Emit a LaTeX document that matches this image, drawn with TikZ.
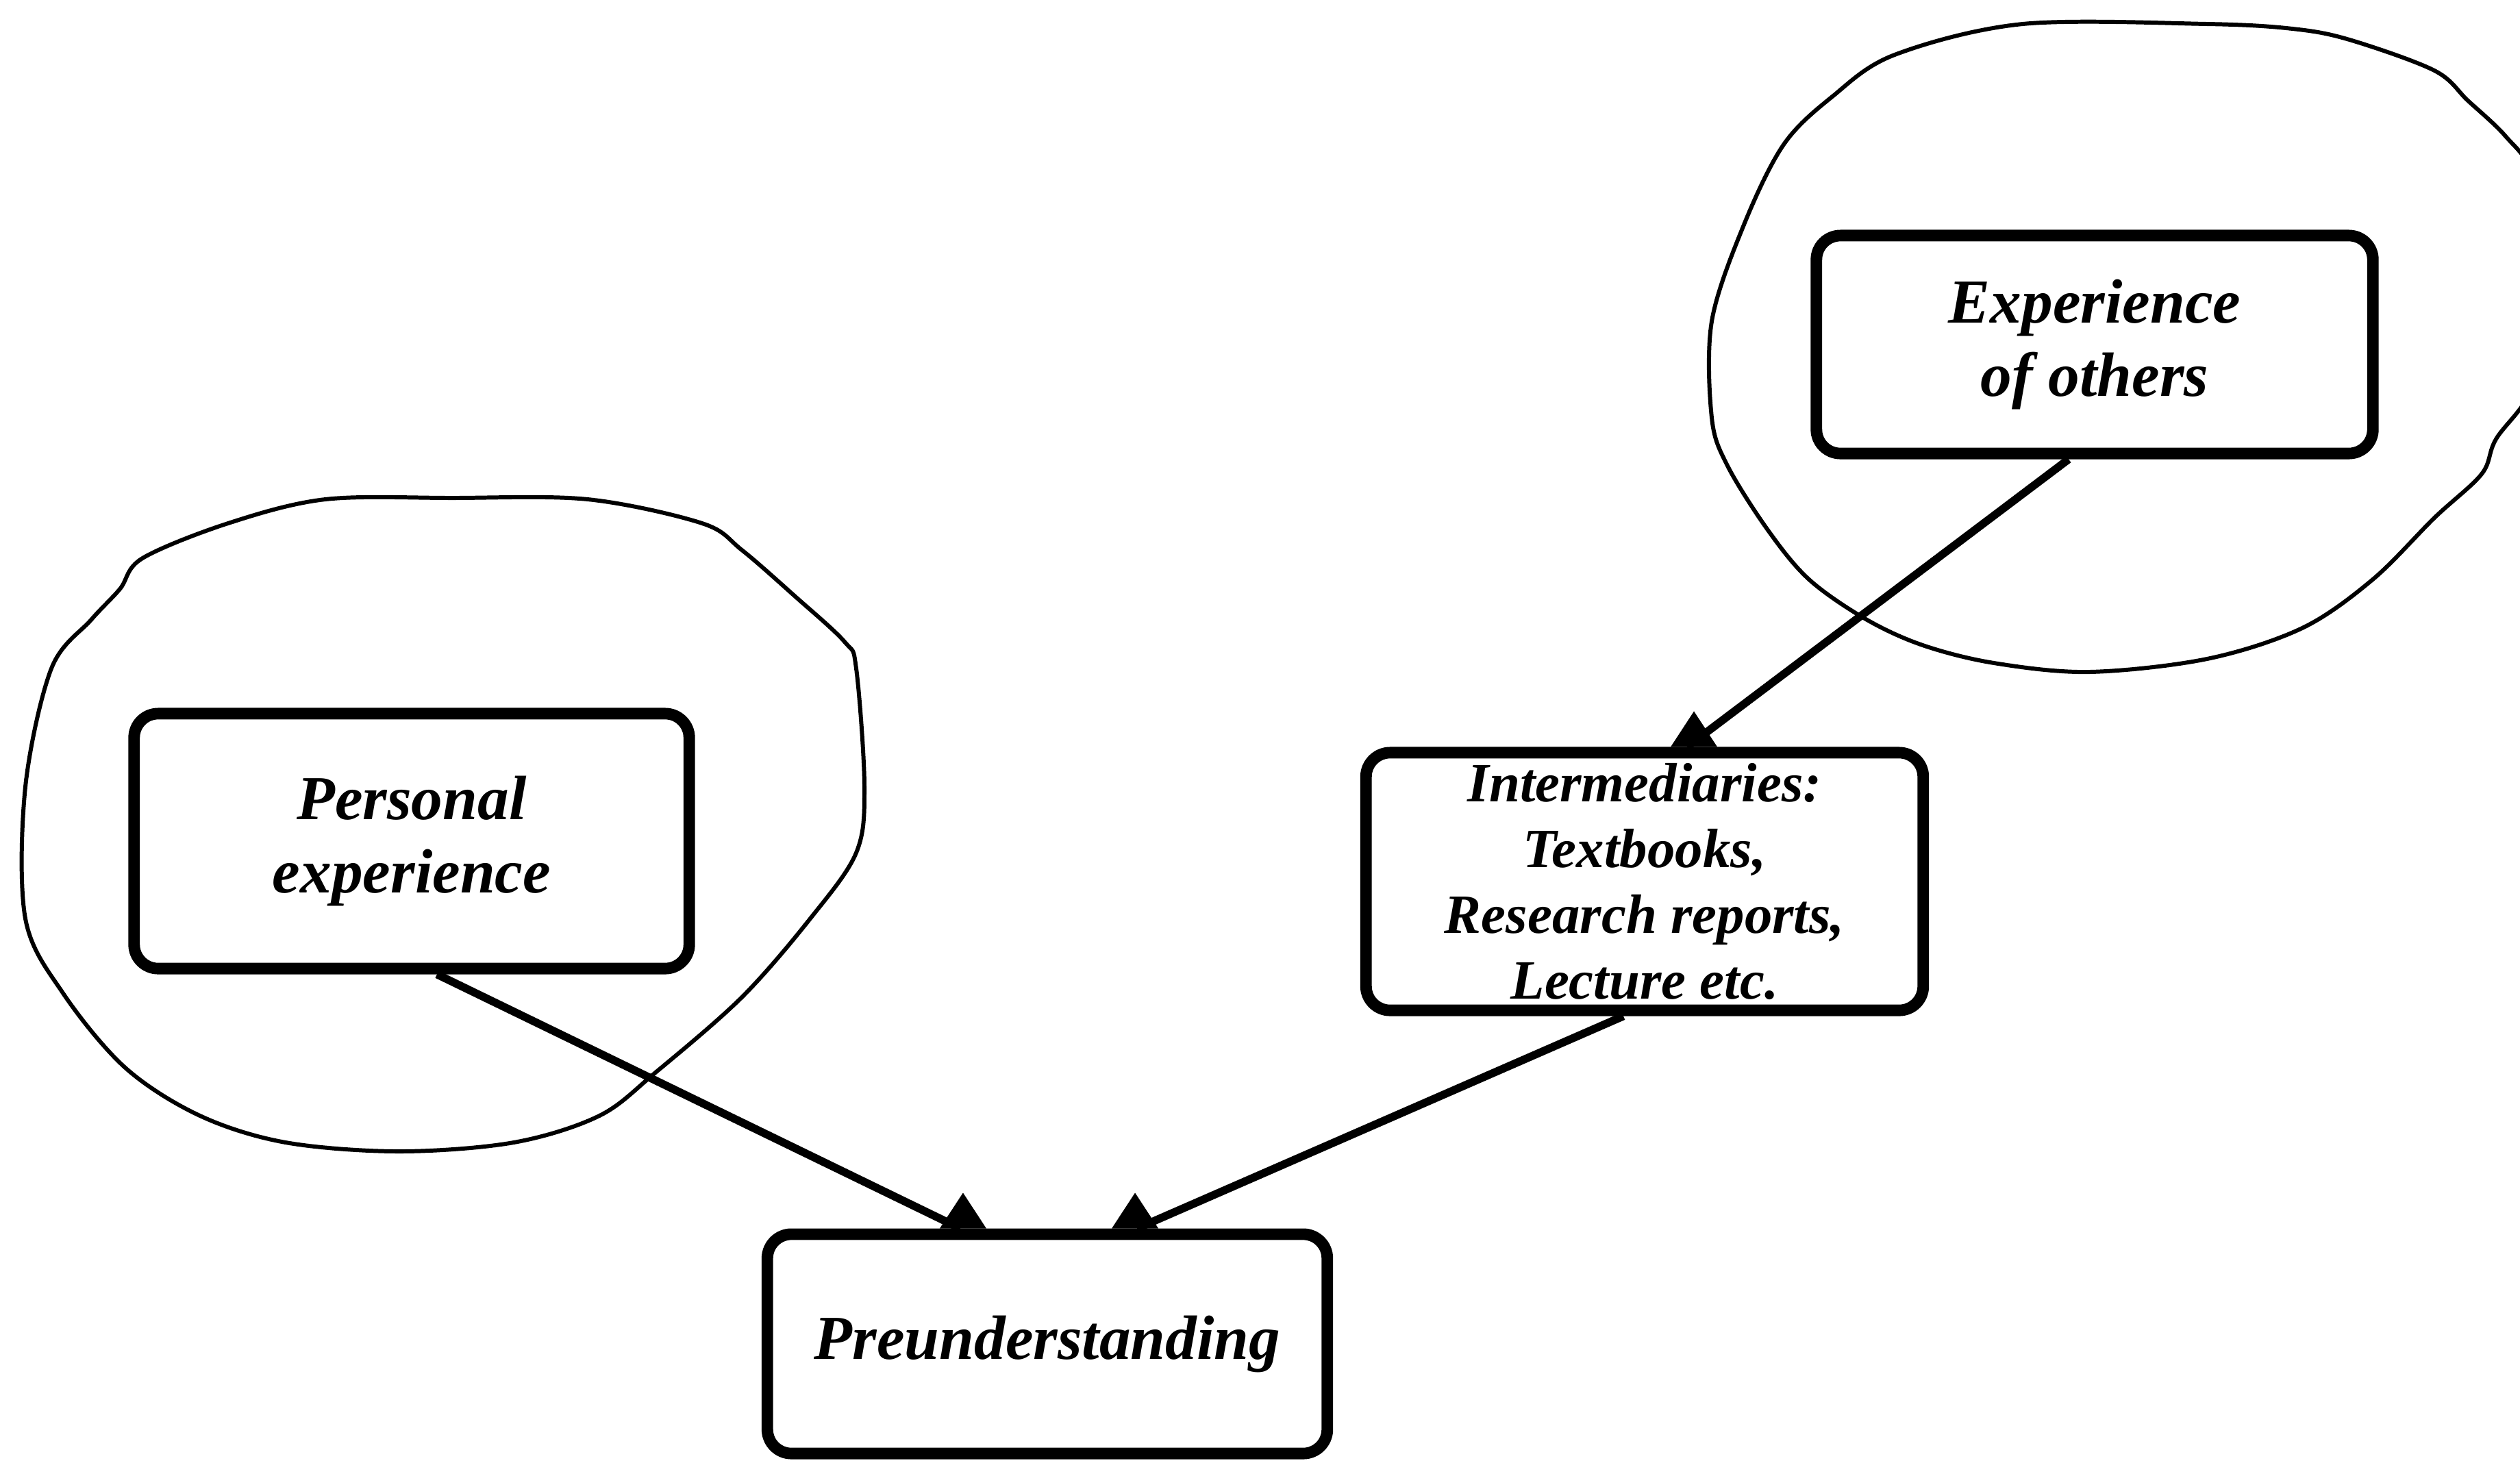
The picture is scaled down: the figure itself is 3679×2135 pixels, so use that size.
\documentclass[tikz,border=0pt]{standalone}
\usepackage{fontspec}
\setmainfont{Liberation Serif}
\usetikzlibrary{calc}
\tikzset{
  box/.style={draw, line width=4.8pt, rounded corners=10pt, align=center, inner sep=0pt,
    font=\bfseries\itshape\fontsize{26}{30.5}\selectfont},
  smallbox/.style={box, font=\bfseries\itshape\fontsize{23}{27.3}\selectfont},
  link/.style={line width=3.3pt},
  blob/.style={line width=1.7pt},
  headtri/.style={fill=black}
}
\begin{document}
\begin{tikzpicture}[x=0.01cm,y=-0.01cm]
\useasboundingbox (0,0) rectangle (3679,2135);

% freehand outlines around the two sources of experience
\draw[blob] plot[smooth cycle, tension=0.55] coordinates {
  (475,729) (660,727) (858,729) (1025,764) (1083,803) (1160,870) (1233,937)
  (1250,976) (1262,1149) (1250,1245) (1183,1341) (1083,1456) (958,1565)
  (875,1629) (750,1668) (583,1681) (417,1668) (292,1629) (183,1559)
  (92,1450) (37,1341) (37,1149) (75,976) (133,905) (175,860) (208,815) (333,764)};
\draw[blob] plot[smooth cycle, tension=0.55] coordinates {
  (2953,35) (3222,35) (3347,42) (3430,58) (3554,103) (3603,147) (3658,199)
  (3700,260) (3725,410) (3700,560) (3644,641) (3623,692) (3554,756)
  (3464,846) (3361,917) (3222,962) (3050,981) (2911,968) (2807,942)
  (2724,904) (2641,846) (2581,774) (2522,680) (2499,610) (2499,469)
  (2546,328) (2604,211) (2675,141) (2766,80)};

% boxes
\node[box, minimum width=8.10cm, minimum height=3.72cm] (pers) at (601,1228) {Personal\\experience};
\node[box, minimum width=8.12cm, minimum height=3.18cm] (others) at (3058,503) {Experience\\of others};
\node[smallbox, minimum width=8.13cm, minimum height=3.76cm] (inter) at (2401,1287)
  {Intermediaries:\\Textbooks,\\Research reports,\\Lecture etc.};
\node[box, minimum width=8.17cm, minimum height=3.20cm] (pre) at (1529,1962) {Preunderstanding};

% connectors
\draw[link] ([xshift=-0.38cm]others.south) -- ([xshift=0.62cm]inter.north);
\draw[link] ([xshift=0.37cm]pers.south) -- ([xshift=-1.27cm]pre.north);
\draw[link] ([xshift=-0.31cm]inter.south) -- ([xshift=1.31cm]pre.north);

% arrowheads sitting on the box tops
\coordinate (hInter) at ([xshift=0.72cm]inter.north);
\coordinate (hPreL) at ([xshift=-1.23cm]pre.north);
\coordinate (hPreR) at ([xshift=1.28cm]pre.north);
\foreach \h in {hInter,hPreL,hPreR}
  \fill[headtri] (\h) ++(-34,0) -- ++(34,-52) -- ++(34,52) -- cycle;
\end{tikzpicture}
\end{document}
